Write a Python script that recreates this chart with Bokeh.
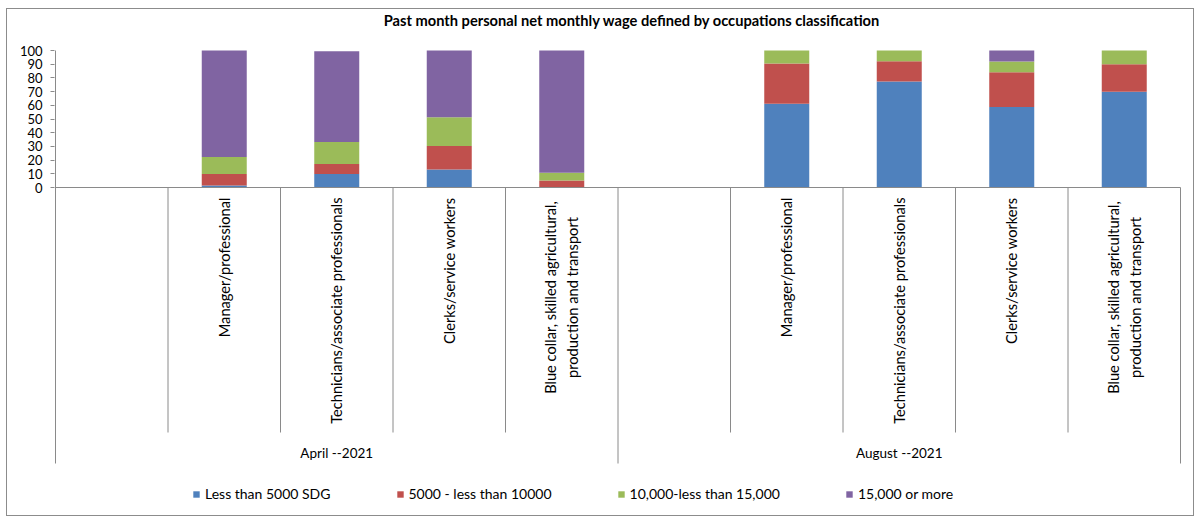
import math
from bokeh.plotting import figure
from bokeh.models import Range1d, FixedTicker, Legend, LegendItem, ColumnDataSource
from bokeh.core.properties import value
from bokeh.embed import file_html
from bokeh.resources import INLINE

# ---------------- data ----------------
title_text = "Past month personal net monthly wage defined by occupations classification"
periods = ["April --2021", "August --2021"]
occupations = [
    "Manager/professional",
    "Technicians/associate professionals",
    "Clerks/service workers",
    "Blue collar, skilled agricultural,\nproduction and transport",
]
series_names = ["Less than 5000 SDG", "5000 - less than 10000",
                "10,000-less than 15,000", "15,000 or more"]

april_lt_5000 = [1.5, 9.8, 13.2, 0.0]
april_5000_10000 = [8.3, 7.3, 17.1, 5.1]
april_10000_15000 = [12.4, 16.2, 21.0, 5.7]
april_15000_more = [77.8, 66.2, 48.7, 89.2]

august_lt_5000 = [61.1, 77.3, 58.7, 69.9]
august_5000_10000 = [29.4, 14.9, 25.4, 20.1]
august_10000_15000 = [9.5, 7.8, 7.8, 10.0]
august_15000_more = [0.0, 0.0, 8.1, 0.0]

y_ticks = [0, 10, 20, 30, 40, 50, 60, 70, 80, 90, 100]

# ---------------- styles ----------------
colors = ["#4F81BD", "#C0504D", "#9BBB59", "#8064A2"]
FONT = "Lato"
AXIS_GRAY = "#8a8a8a"
LABEL_SIZE = "14.67px"

# layout (pixels)
W, H = 1188, 508
TOP_PX = 41                    # canvas pixel of value 100
ZERO_FROM_TOP = 137            # pixel distance from value 100 to value 0
PX_PER_UNIT = ZERO_FROM_TOP / 100.0
Y_TOP = 100 + TOP_PX / PX_PER_UNIT
Y_BOTTOM = -(H - TOP_PX - ZERO_FROM_TOP) / PX_PER_UNIT
SLOT_PX = 112.5
EDGE = 1.0 / SLOT_PX           # one pixel of room for the edge lines


def depth(px):
    """data value lying px pixels below the zero line"""
    return -px / PX_PER_UNIT


def above_top(px):
    """data value lying px pixels above the value 100"""
    return 100 + px / PX_PER_UNIT


slots_per_group = len(occupations) + 1  # one empty slot before each group
n_slots = slots_per_group * len(periods)

x_pos, lt, m1, m2, top = [], [], [], [], []
groups = [(april_lt_5000, april_5000_10000, april_10000_15000, april_15000_more),
          (august_lt_5000, august_5000_10000, august_10000_15000, august_15000_more)]
for g, (a, b, c, d) in enumerate(groups):
    for i in range(len(occupations)):
        x_pos.append(g * slots_per_group + 1 + i + 0.5)
        lt.append(a[i]); m1.append(b[i]); m2.append(c[i]); top.append(d[i])

keys = ["s0", "s1", "s2", "s3"]
source = ColumnDataSource(dict(x=x_pos, s0=lt, s1=m1, s2=m2, s3=top))

frame_w = SLOT_PX * (n_slots + 2 * EDGE)
p = figure(width=W, height=H,
           x_range=Range1d(-EDGE, n_slots + EDGE),
           y_range=Range1d(Y_BOTTOM, Y_TOP),
           x_axis_location=None, title=None,
           output_backend="svg", toolbar_location=None,
           min_border_left=47, min_border_right=int(round(W - 47 - frame_w)),
           min_border_top=0, min_border_bottom=0)
p.styles = {"border": "1px solid #8c8c8c", "margin-left": "6px", "margin-top": "8px"}
p.outline_line_color = None
p.grid.visible = False
p.background_fill_color = "white"
p.border_fill_color = "white"

# y axis
ax = p.yaxis[0]
ax.ticker = FixedTicker(ticks=y_ticks)
ax.minor_tick_line_color = None
ax.major_tick_in = 0
ax.major_tick_out = 4
ax.axis_line_color = None
ax.major_tick_line_color = AXIS_GRAY
ax.major_label_text_font = FONT
ax.major_label_text_font_size = "13px"
ax.major_label_text_color = "#000000"
ax.major_label_standoff = 8

# title
p.text(x=[n_slots / 2.0 + 14 / SLOT_PX], y=[above_top(30)], text=[title_text],
       text_align="center", text_baseline="middle",
       text_font=value(FONT), text_font_size=LABEL_SIZE, text_font_style="bold",
       text_color="#000000")

# bars
renderers = p.vbar_stack(keys, x="x", width=0.4, source=source,
                         color=colors, line_color=None)

# axis lines and category separators
p.segment(x0=[0], y0=[100], x1=[0], y1=[depth(276)], line_color=AXIS_GRAY, line_width=1)
p.segment(x0=[0], y0=[0], x1=[n_slots], y1=[0], line_color=AXIS_GRAY, line_width=1)
sep_x = [g * slots_per_group + k for g in range(len(periods)) for k in range(1, slots_per_group)]
p.segment(x0=sep_x, y0=[0] * len(sep_x), x1=sep_x,
          y1=[depth(245)] * len(sep_x), line_color=AXIS_GRAY, line_width=1)
grp_x = [(g + 1) * slots_per_group for g in range(len(periods))]
p.segment(x0=grp_x, y0=[0] * len(grp_x), x1=grp_x, y1=[depth(276)] * len(grp_x),
          line_color=AXIS_GRAY, line_width=1)

# category labels (rotated)
single_x, single_t, multi_x, multi_t = [], [], [], []
for g in range(len(periods)):
    for i, occ in enumerate(occupations):
        xc = g * slots_per_group + 1 + i + 0.5
        if "\n" in occ:
            multi_x.append(xc); multi_t.append(occ)
        else:
            single_x.append(xc); single_t.append(occ)
p.text(x=single_x, y=[depth(10)] * len(single_x), text=single_t,
       angle=math.pi / 2, text_align="right", text_baseline="middle",
       text_font=value(FONT), text_font_size=LABEL_SIZE, text_color="#000000")
p.text(x=multi_x, y=[depth(110)] * len(multi_x), text=multi_t,
       angle=math.pi / 2, text_align="center", text_baseline="middle",
       text_font=value(FONT), text_font_size=LABEL_SIZE, text_color="#000000",
       text_line_height=1.3)

# group labels
grp_center = [g * slots_per_group + slots_per_group / 2.0 for g in range(len(periods))]
p.text(x=grp_center, y=[depth(265)] * len(periods), text=periods,
       text_align="center", text_baseline="middle",
       text_font=value(FONT), text_font_size="13.5px", text_color="#000000")

# legend
legend = Legend(items=[LegendItem(label=n, renderers=[r]) for n, r in zip(series_names, renderers)],
                orientation="horizontal", location=(138, 15),
                glyph_width=8, glyph_height=8, label_standoff=5, spacing=65,
                padding=0, margin=0, label_height=16,
                label_text_font=FONT, label_text_font_size="14px",
                label_text_color="#000000",
                border_line_color=None, background_fill_alpha=0)
p.add_layout(legend)

open("out.html", "w").write(file_html(p, INLINE))
